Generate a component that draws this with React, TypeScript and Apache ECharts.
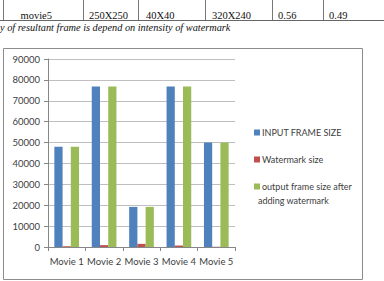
import React, { useEffect, useRef } from "react";
import * as echarts from "echarts";

const categories = ["Movie 1", "Movie 2", "Movie 3", "Movie 4", "Movie 5"];
const inputFrameSize = [48000, 76800, 19200, 76800, 50000];
const watermarkSize = [400, 900, 1500, 700, 100];
const outputFrameSize = [48000, 76800, 19200, 76800, 50000];
const seriesNames = ["INPUT FRAME SIZE", "Watermark size", "output frame size after adding watermark"];
const tableRow = ["movie5", "250X250", "40X40", "320X240", "0.56", "0.49"];
const caption = "y of resultant frame is depend on intensity of watermark";

const FONT = "Lato, 'Open Sans', sans-serif";
const SERIF = "'Liberation Serif', 'DejaVu Serif', serif";

export default function App() {
  const ref = useRef<HTMLDivElement>(null);
  useEffect(() => {
    if (!ref.current) return;
    const chart = echarts.init(ref.current, null, { renderer: "svg" });
    const cellX = [20.5, 89, 146, 212, 278, 329];
    const vLines = [3, 83, 138, 205, 272, 323];
    const graphic: any[] = [];
    vLines.forEach((x) =>
      graphic.push({ type: "line", shape: { x1: x + 0.5, y1: 0, x2: x + 0.5, y2: 21 }, style: { stroke: "#777", lineWidth: 1 } })
    );
    graphic.push({ type: "line", shape: { x1: 0, y1: 20.5, x2: 384, y2: 20.5 }, style: { stroke: "#666", lineWidth: 1 } });
    tableRow.forEach((t, i) =>
      graphic.push({
        type: "text",
        x: cellX[i],
        y: 15.5,
        style: { text: t, font: `10.5px ${SERIF}`, fill: "#111", textVerticalAlign: "middle" },
      })
    );
    graphic.push({
      type: "text",
      x: 0,
      y: 27.5,
      style: { text: caption, font: `italic 10.3px ${SERIF}`, fill: "#111", textVerticalAlign: "middle" },
    });
    graphic.push({
      type: "rect",
      shape: { x: 3.5, y: 48.5, width: 359, height: 231 },
      style: { fill: "none", stroke: "#8c8c8c", lineWidth: 1 },
      z: -1,
    });
    graphic.push({
      type: "text",
      x: 258,
      y: 200,
      style: { text: "adding watermark", font: `9px ${FONT}`, fill: "#404040", textVerticalAlign: "middle" },
    });

    const mk = (name: string, data: number[], color: string) => ({
      name,
      type: "bar",
      data,
      barGap: "0%",
      barCategoryGap: "34%",
      itemStyle: { color },
    });

    chart.setOption({
      animation: false,
      grid: { left: 48, top: 59, right: 149, bottom: 34 },
      legend: {
        orient: "vertical",
        left: 249,
        top: 123,
        itemWidth: 6,
        itemHeight: 6,
        itemGap: 18,
        icon: "rect",
        data: seriesNames,
        formatter: (n: string) => (n === seriesNames[2] ? "output frame size after" : n),
        textStyle: { fontFamily: FONT, fontSize: 9, color: "#404040", padding: [0, 0, 0, -3] },
      },
      xAxis: {
        type: "category",
        data: categories,
        axisLine: { lineStyle: { color: "#868686" } },
        axisTick: { show: true, length: 4, lineStyle: { color: "#868686" } },
        axisLabel: { fontFamily: FONT, fontSize: 9.5, color: "#404040", margin: 9, interval: 0 },
      },
      yAxis: {
        type: "value",
        min: 0,
        max: 90000,
        interval: 10000,
        axisLine: { show: true, lineStyle: { color: "#868686" } },
        axisTick: { show: true, length: 4, lineStyle: { color: "#868686" } },
        splitLine: { lineStyle: { color: "#bfbfbf" } },
        axisLabel: { fontFamily: FONT, fontSize: 9.5, color: "#404040", margin: 8, formatter: (v: number) => String(v) },
      },
      series: [
        mk(seriesNames[0], inputFrameSize, "#4F81BD"),
        mk(seriesNames[1], watermarkSize, "#C0504D"),
        mk(seriesNames[2], outputFrameSize, "#9BBB59"),
      ],
      graphic,
    });
    return () => chart.dispose();
  }, []);
  return (
    <div
      ref={ref}
      style={{ position: "fixed", left: 0, top: 0, width: 384, height: 281, background: "#fff" }}
    />
  );
}
